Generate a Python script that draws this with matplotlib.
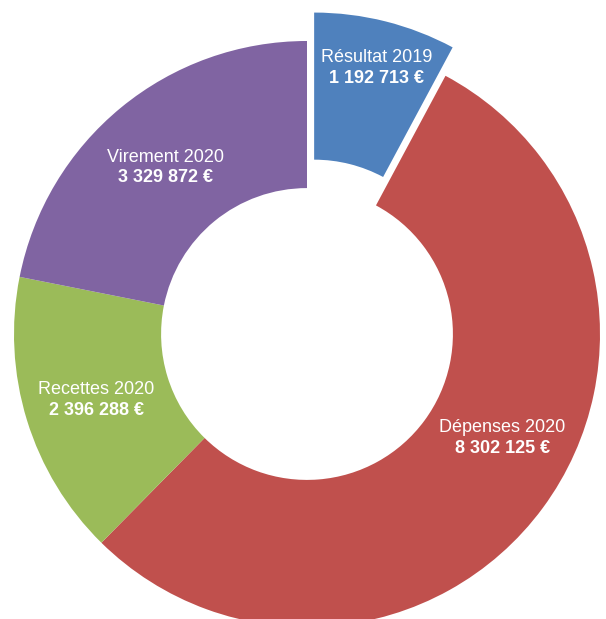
import matplotlib
matplotlib.use("Agg")
import matplotlib.pyplot as plt

plt.rcParams['font.family'] = ['Liberation Sans', 'DejaVu Sans']

# données
postes = ["Résultat 2019", "Dépenses 2020", "Recettes 2020", "Virement 2020"]
montants = [1192713, 8302125, 2396288, 3329872]
montants_txt = ["1 192 713 €", "8 302 125 €", "2 396 288 €", "3 329 872 €"]
couleurs = ["#4F81BD", "#C0504D", "#9BBB59", "#8064A2"]
eclat = [0.10, 0, 0, 0]

# position des étiquettes (coordonnées de l'axe)
pos_etiq = [(0.237, 0.908), (0.666, -0.355), (-0.720, -0.225), (-0.483, 0.568)]

fig = plt.figure(figsize=(6.06, 6.19), dpi=100)
ax = fig.add_axes([0, 0, 1, 1])
ax.pie(montants, colors=couleurs, explode=eclat, startangle=90, counterclock=False,
       radius=1.0, wedgeprops=dict(width=0.502, linewidth=0))
ax.set_xlim(-1.0478, 1.0205)
ax.set_ylim(-0.9727, 1.1399)
ax.set_aspect('auto')
ax.axis('off')

for nom, val, (x, y) in zip(postes, montants_txt, pos_etiq):
    ax.text(x, y + 0.035, nom, color='white', fontsize=13, ha='center', va='center')
    ax.text(x, y - 0.035, val, color='white', fontsize=13, fontweight='bold',
            ha='center', va='center')

fig.savefig("out.png", dpi=100)
